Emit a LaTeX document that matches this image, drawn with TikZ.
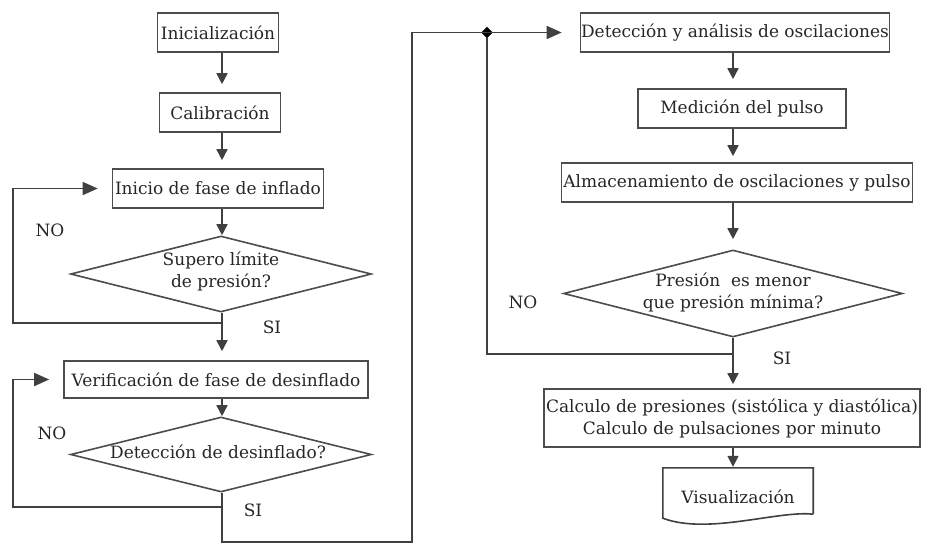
\documentclass[tikz,border=0pt]{standalone}
\usepackage{fontspec}
\setmainfont{DejaVu Serif}
\usetikzlibrary{shapes.geometric,arrows.meta,calc}

\begin{document}
\begin{tikzpicture}[x=1pt,y=-1pt,
  every node/.style={font=\fontsize{17}{22}\selectfont, text=black!85},
  proc/.style={draw=black!70, line width=1.6pt, rectangle, inner sep=0pt, minimum height=39pt},
  decision/.style={draw=black!70, line width=1.6pt, diamond, inner sep=0pt},
  link/.style={draw=black!75, line width=1.6pt},
  flow/.style={link, -{Triangle[length=11pt,width=11pt]}},
  sideflow/.style={link, -{Triangle[length=15pt,width=13pt]}},
  junction/.style={diamond, fill=black, draw=black, inner sep=0pt, minimum size=11pt}
]
\useasboundingbox (0,0) rectangle (928,543);

% left column
\node[proc, minimum width=121pt] (ini) at (218,32.5) {Inicialización};
\node[proc, minimum width=121pt] (cal) at (220,112.5) {Calibración};
\node[proc, minimum width=211pt] (inf) at (218,188.5) {Inicio de fase de inflado};
\node[decision, minimum width=301pt, minimum height=76pt] (d1) at (221,274) {};
\node[align=center] (t1) at (221,271) {Supero límite\\de presión?};
\node[proc, minimum width=304pt, minimum height=37pt] (ver) at (216,379.5) {Verificación de fase de desinflado};
\node[decision, minimum width=301pt, minimum height=75pt] (d2) at (221,454.5) {};
\node (t2) at (218,452) {Detección de desinflado?};

% right column
\node[proc, minimum width=309pt] (det) at (735,32.5) {Detección y análisis de oscilaciones};
\node[proc, minimum width=208pt] (med) at (742,108.5) {Medición del pulso};
\node[proc, minimum width=351pt] (alm) at (737,182.5) {Almacenamiento de oscilaciones y pulso};
\node[decision, minimum width=339pt, minimum height=87pt] (d3) at (733,293.5) {};
\node[align=center] (t3) at (733,292) {Presión\ \ es menor\\que presión mínima?};
\node[proc, minimum width=376pt, minimum height=58pt, align=center] (calc) at (732,418)
  {Calculo de presiones (sistólica y diastólica)\\Calculo de pulsaciones por minuto};
\node[inner sep=0pt, minimum width=150pt, minimum height=50pt] (vis) at (738,493) {};
\node (tv) at (738,497) {Visualización};
\draw[link] ($(vis.south east)+(0,-4)$) -- (vis.north east) -- (vis.north west) -- (vis.south west)
  .. controls +(45,17) and +(-35,-4) .. ($(vis.south east)+(0,-4)$);

% branch labels
\node (no1) at (50,230) {NO};
\node (si1) at (272,327) {SI};
\node (no2) at (52,433) {NO};
\node (si2) at (253,510) {SI};
\node (no3) at (523,302) {NO};
\node (si3) at (782,358) {SI};

% vertical flow, left column
\coordinate (xl) at (222,0);
\draw[flow, shorten >=8pt] (ini.south -| xl) -- (cal.north -| xl);
\draw[flow, shorten >=8pt] (cal.south -| xl) -- (inf.north -| xl);
\draw[flow] (inf.south -| xl) -- (d1.north -| xl);
\draw[flow, shorten >=9pt] (d1.south -| xl) -- (ver.north -| xl);
\draw[flow] (ver.south -| xl) -- (d2.north -| xl);

% NO loops, left column
\coordinate (lp) at (13,0);
\draw[sideflow, shorten >=14pt] (d1.south -| xl) -- ++(0,10) -| (lp |- inf.west) -- (inf.west);
\draw[sideflow, shorten >=14pt] (d2.south -| xl) -- ++(0,14) -| (lp |- ver.west) -- (ver.west);

% transfer to the right column
\coordinate (up) at (412,0);
\node[junction] (jn) at (487,32.5) {};
\draw[sideflow, shorten >=18pt] (d2.south -| xl) -- ++(0,49) -| (up |- det.west) -- (det.west);

% vertical flow, right column
\coordinate (xr) at (733,0);
\draw[flow, shorten >=9pt] (det.south -| xr) -- (med.north -| xr);
\draw[flow, shorten >=6pt] (med.south -| xr) -- (alm.north -| xr);
\draw[flow, shorten >=10pt] (alm.south -| xr) -- (d3.north -| xr);
\draw[flow, shorten >=4pt] (d3.south -| xr) -- (calc.north -| xr);
\draw[flow, shorten >=1pt] (calc.south -| xr) -- (vis.north -| xr);

% NO loop, right column
\draw[link] (d3.south -| xr) -- ++(0,16) -| (jn.south);
\end{tikzpicture}
\end{document}
